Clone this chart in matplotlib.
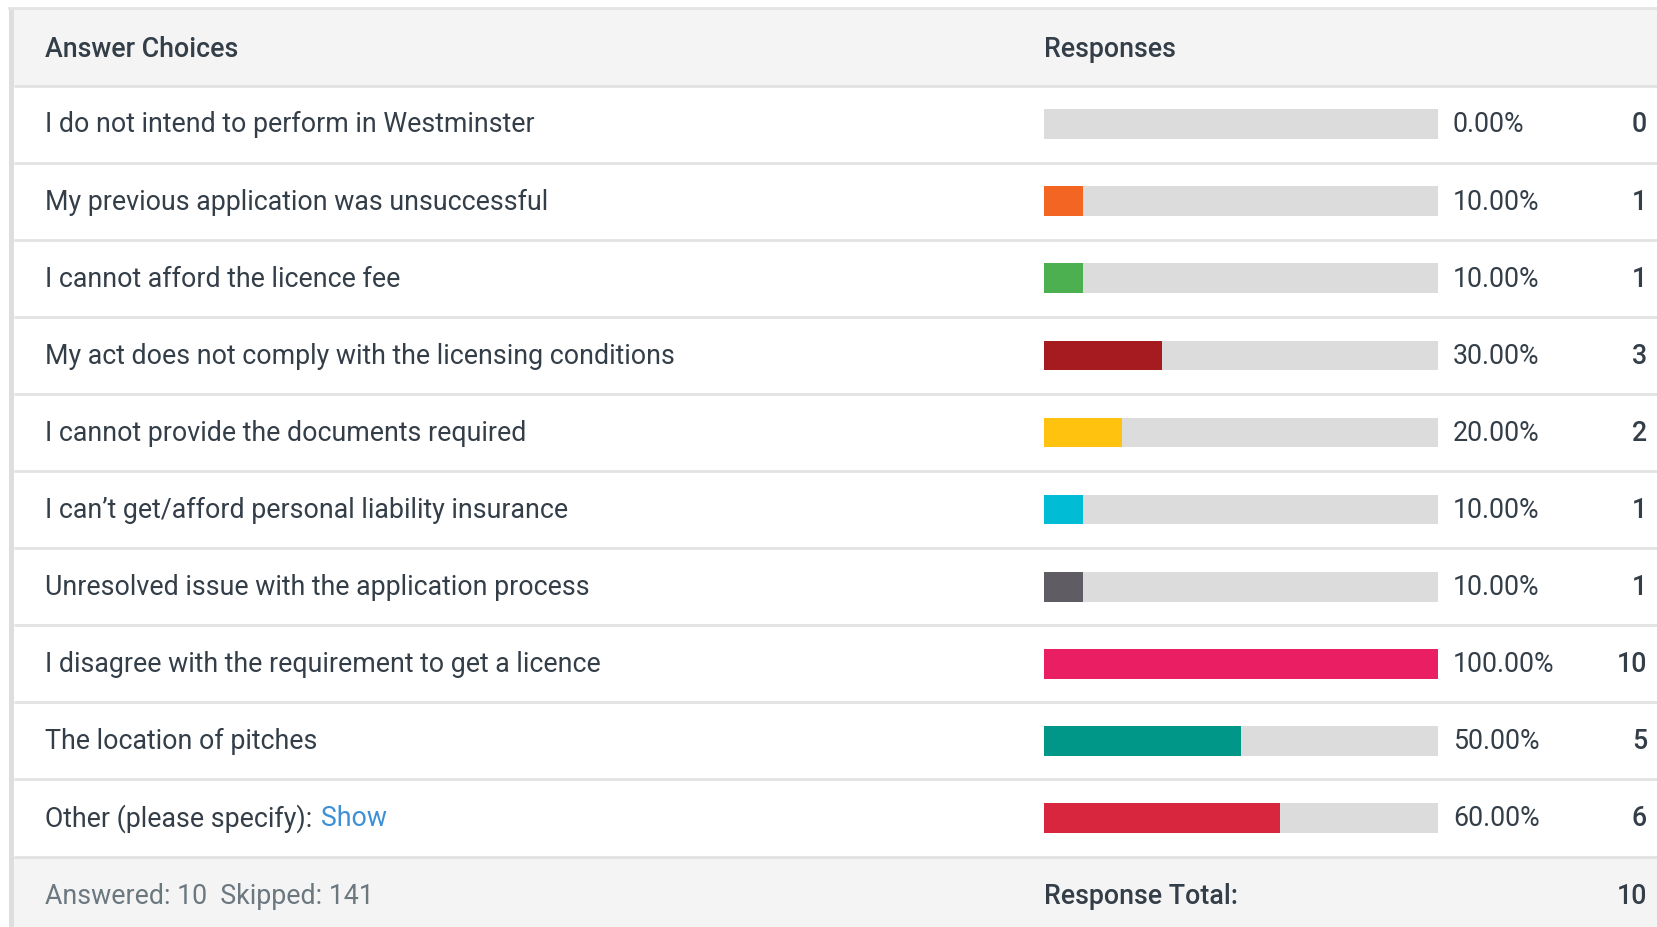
import matplotlib
matplotlib.use("Agg")
import matplotlib.pyplot as plt
from matplotlib.patches import Rectangle

plt.rcParams['font.family'] = ['Roboto', 'DejaVu Sans']

# ---- data ----
choices = [
    "I do not intend to perform in Westminster",
    "My previous application was unsuccessful",
    "I cannot afford the licence fee",
    "My act does not comply with the licensing conditions",
    "I cannot provide the documents required",
    "I can\u2019t get/afford personal liability insurance",
    "Unresolved issue with the application process",
    "I disagree with the requirement to get a licence",
    "The location of pitches",
    "Other (please specify):",
]
percents = [0.0, 10.0, 10.0, 30.0, 20.0, 10.0, 10.0, 100.0, 50.0, 60.0]
counts = [0, 1, 1, 3, 2, 1, 1, 10, 5, 6]
bar_colors = ["#dcdcdc", "#f26523", "#4caf50", "#a51b1f", "#ffc20e",
              "#00bcd4", "#5f5c63", "#e91e63", "#009688", "#d7263d"]
answered = 10
skipped = 141
response_total = 10

W, H = 1658, 927
fig = plt.figure(figsize=(W / 100, H / 100), dpi=100)
fig.patch.set_facecolor("white")
bg = fig.add_axes([0, 0, 1, 1])
bg.set_xlim(0, W)
bg.set_ylim(H, 0)
bg.axis("off")

top = 8.0
head_bot = 85.6
foot_top = 856.5
n = len(choices)
row_h = (foot_top - head_bot) / n
left_edge = 14.5

# header / footer backgrounds
bg.add_patch(Rectangle((left_edge, top), W - left_edge, head_bot - top, color="#f4f4f4", lw=0))
bg.add_patch(Rectangle((left_edge, foot_top), W - left_edge, H - foot_top, color="#f4f4f4", lw=0))
# left border and top line
bg.add_patch(Rectangle((9.5, top), 5, H - top, color="#dedede", lw=0))
bg.plot([9.5, W], [top, top], color="#e4e4e4", lw=2)
# row separators
for i in range(n + 1):
    y = head_bot + i * row_h
    bg.plot([left_edge, W], [y, y], color="#e2e2e2", lw=2, solid_capstyle="butt")

txt = "#333e48"
fs = 19.3
hy = (top + head_bot) / 2 + 2.5
bg.text(45.5, hy, "Answer Choices", fontsize=fs, fontweight="medium",
        color=txt, va="center", ha="left")
bg.text(1043.6, hy, "Responses", fontsize=fs, fontweight="medium",
        color=txt, va="center", ha="left")

fig.canvas.draw()
for i, (c, p, k) in enumerate(zip(choices, percents, counts)):
    yc = head_bot + (i + 0.5) * row_h + 0.8
    t = bg.text(45.5, yc, c, fontsize=fs, color=txt, va="center", ha="left")
    if c.startswith("Other"):
        bb = t.get_window_extent(renderer=fig.canvas.get_renderer())
        x_show = bg.transData.inverted().transform((bb.x1, 0))[0] + 8
        bg.text(x_show, yc, "Show", fontsize=fs, color="#3d8fd6", va="center", ha="left")
    bg.text(1453, yc, f"{p:.2f}%", fontsize=fs, color=txt, va="center", ha="left")
    bg.text(1647, yc, f"{k}", fontsize=fs, fontweight="medium", color=txt, va="center", ha="right")

fy = (foot_top + H) / 2 + 5
bg.text(45.5, fy, f"Answered: {answered}  Skipped: {skipped}", fontsize=fs, color="#6b7880",
        va="center", ha="left")
bg.text(1043.6, fy, "Response Total:", fontsize=fs, fontweight="medium", color=txt,
        va="center", ha="left")
bg.text(1647, fy, f"{response_total}", fontsize=fs, fontweight="medium", color=txt,
        va="center", ha="right")

# bars axis
bx0, bx1 = 1043.6, 1438.0
bax = fig.add_axes([bx0 / W, 1 - foot_top / H, (bx1 - bx0) / W, (foot_top - head_bot) / H])
bax.set_xlim(0, 100)
bax.set_ylim(n, 0)
bax.axis("off")
ys = [i + 0.5 for i in range(n)]
bax.barh(ys, [100] * n, height=0.385, color="#dcdcdc", lw=0)
bax.barh(ys, percents, height=0.385, color=bar_colors, lw=0)

fig.savefig("out.png", dpi=100, facecolor="white")
